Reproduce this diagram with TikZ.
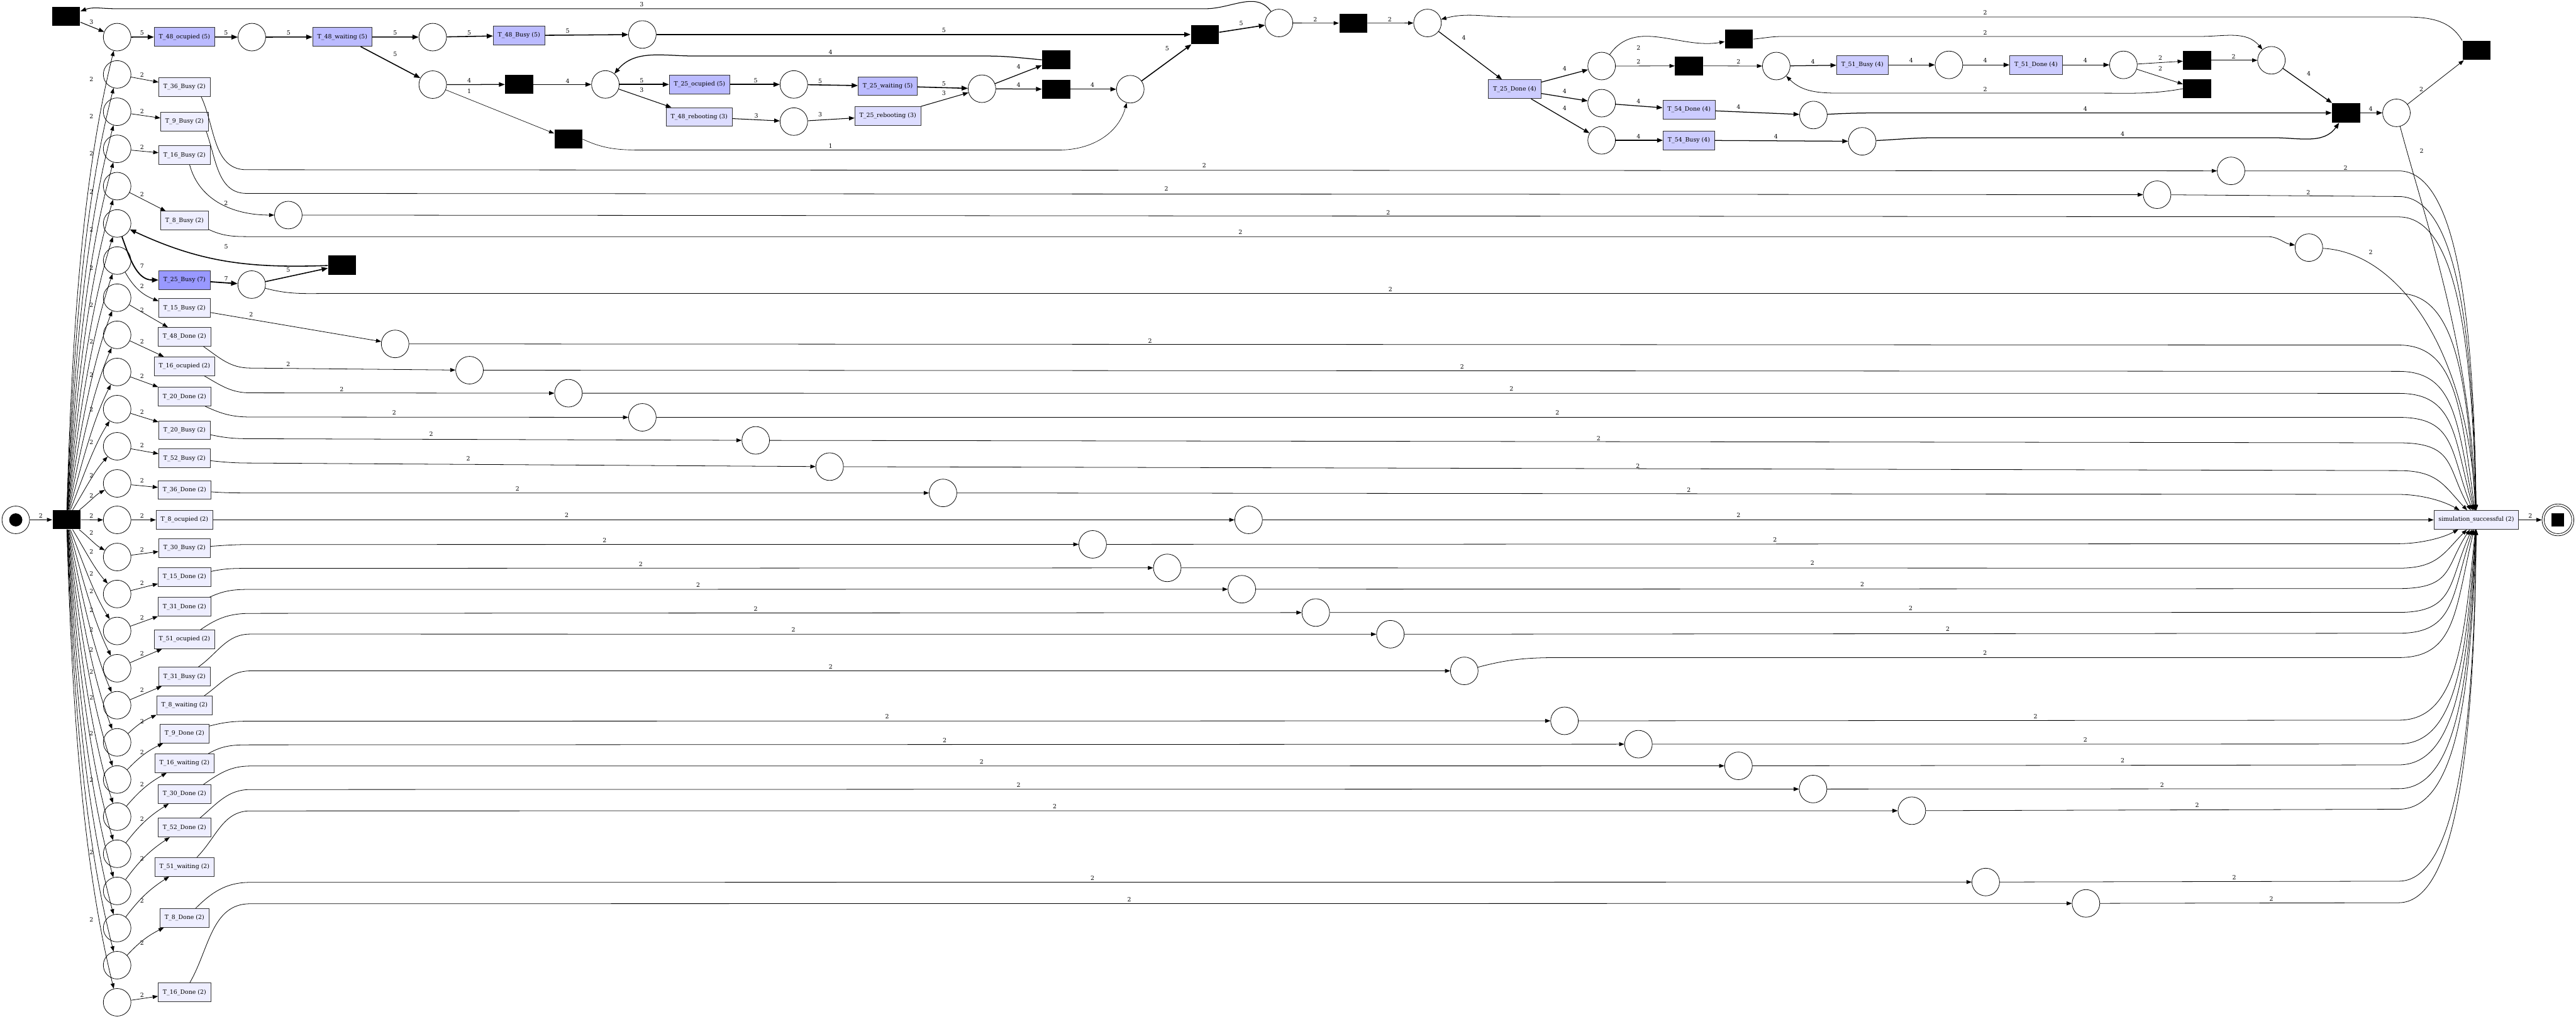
\documentclass[tikz,border=0pt]{standalone}
\usepackage{fontspec}
\setmainfont{DejaVu Serif}
\usetikzlibrary{arrows.meta}
\definecolor{cMid}{HTML}{BBBBFF}
\definecolor{cDark}{HTML}{9999FF}
\definecolor{cLight}{HTML}{DDDDFF}
\definecolor{cC}{HTML}{CCCCFF}
\definecolor{cE}{HTML}{EEEEFF}
\newcommand\lbl{\fontsize{3.6pt}{4.2pt}\selectfont}
\newcounter{wlc}
\newcommand\wl[3]{\stepcounter{wlc}\node[lab] (wl\arabic{wlc}) at (#1,-#2) {#3};}
\newcommand\TP[5]{\draw[a2] (#1.#2) to[out=#3,in=180] (152.4,-#4) -- (#5);}
\newcommand\ToSink[2]{%
  \pgfmathsetmacro\sdy{316.4-#2}%
  \pgfmathsetmacro\sady{abs(\sdy)}%
  \pgfmathsetmacro\sang{\sdy>0 ? 90+85*exp(-\sady/45) : 270-85*exp(-\sady/45)}%
  \pgfmathsetmacro\sod{min(0.8*\sady,35)}%
  \pgfmathsetmacro\sid{0.55*\sady+4}%
  \draw[a2] #1 -- (1460,-#2) to[out=0,in=\sang,out distance=\sod pt,in distance=\sid pt] (sink);}
\begin{document}
\begin{tikzpicture}[x=1pt,y=1pt,
 place/.style={circle,draw,line width=0.3pt,minimum size=16.8pt,inner sep=0pt},
 tr/.style={rectangle,draw=black!80,line width=0.35pt,minimum height=11.4pt,inner xsep=2.8pt,inner ysep=0pt,font=\lbl},
 bt/.style={rectangle,fill=black,minimum width=17pt,minimum height=11.6pt,inner sep=0pt},
 lab/.style={font=\lbl,inner sep=0pt},
 arr/.style={-{Triangle[length=2.6pt 2,width=1.9pt 1.6]}},
 a1/.style={arr,line width=0.25pt},
 a2/.style={arr,line width=0.3pt},
 a3/.style={arr,line width=0.4pt},
 a4/.style={arr,line width=0.48pt},
 a5/.style={arr,line width=0.6pt},
 a7/.style={arr,line width=0.7pt}]
\useasboundingbox (0,0) rectangle (1568,-620);

% ---------- start, source transition, column of places
\node[place] (s0) at (9.6,-316.4) {};
\node[circle,fill=black,minimum size=8pt,inner sep=0pt] (s0tok) at (s0) {};
\node[bt] (src) at (40.5,-316.3) {};
\node[bt] (bTL) at (40.3,-10) {};
\foreach \i/\y in {1/22.6,2/45.3,3/68,4/90.6,5/113.3,6/136,7/158.6,8/181.2,9/203.8,10/226.4,11/249,12/271.6,13/294.2,14/316.4,15/339,16/361.5,17/384,18/406.7,19/429.2,20/451.8,21/474.4,22/497,23/519.6,24/542.2,25/564.8,26/587.4,27/610}
  {\node[place] (c\i) at (71.3,-\y) {};}

% ---------- second column transitions
\node[tr,fill=cMid] (T48o) at (112.3,-22.5) {T\_48\_ocupied (5)};
\node[tr,fill=cDark] (T25B) at (112.3,-170.4) {T\_25\_Busy (7)};
\foreach \n/\y/\t in {T36B/53/T\_36\_Busy (2),T9B/74/T\_9\_Busy (2),T16B/94.4/T\_16\_Busy (2),T8B/134.3/T\_8\_Busy (2),
 T15B/187.5/T\_15\_Busy (2),T48D/205/T\_48\_Done (2),T16o/222.9/T\_16\_ocupied (2),T20D/241.4/T\_20\_Done (2),
 T20B/261.8/T\_20\_Busy (2),T52B/279/T\_52\_Busy (2),T36D/298.2/T\_36\_Done (2),T8o/316.4/T\_8\_ocupied (2),
 T30B/333.6/T\_30\_Busy (2),T15D/351.2/T\_15\_Done (2),T31D/369.3/T\_31\_Done (2),T51o/389.1/T\_51\_ocupied (2),
 T31B/411.8/T\_31\_Busy (2),T8w/429.3/T\_8\_waiting (2),T9D/446.5/T\_9\_Done (2),T16w/464.5/T\_16\_waiting (2),
 T30D/483.3/T\_30\_Done (2),T52D/503.7/T\_52\_Done (2),T51w/527.6/T\_51\_waiting (2),T8D/558.7/T\_8\_Done (2),
 T16D/603.9/T\_16\_Done (2)}
  {\node[tr,fill=cE] (\n) at (112.3,-\y) {\t};}

% ---------- top chain
\node[place] (pA) at (153.3,-22.6) {};
\node[tr,fill=cMid] (T48w) at (208.4,-22.5) {T\_48\_waiting (5)};
\node[place] (pB) at (263.4,-22.6) {};
\node[tr,fill=cMid] (T48B) at (315.9,-21.6) {T\_48\_Busy (5)};
\node[place] (pC) at (391,-21) {};
\node[place] (pD) at (263.4,-51.5) {};
\node[bt] (b2) at (316,-51.4) {};
\node[bt] (b3) at (346,-84.7) {};
\node[place] (pE) at (368.5,-51.4) {};
\node[tr,fill=cMid] (T25o) at (425.8,-51.4) {T\_25\_ocupied (5)};
\node[tr,fill=cLight] (T48r) at (425.6,-71.2) {T\_48\_rebooting (3)};
\node[place] (pF) at (483.2,-51.4) {};
\node[place] (pG) at (483.2,-74) {};
\node[tr,fill=cMid] (T25w) at (540.4,-52.4) {T\_25\_waiting (5)};
\node[tr,fill=cLight] (T25r) at (540.4,-70.6) {T\_25\_rebooting (3)};
\node[place] (pH) at (597.7,-54) {};
\node[bt] (b4) at (642.9,-36.4) {};
\node[bt] (b5) at (642.9,-54.3) {};
\node[place] (pI) at (688,-54.3) {};
\node[bt] (b1) at (733.4,-21) {};
\node[place] (pJ) at (778.5,-14) {};
\node[bt] (b6) at (823.7,-14.1) {};
\node[place] (pK) at (868.9,-14) {};
\node[tr,fill=cC] (T25D) at (922,-54.3) {T\_25\_Done (4)};
\node[place] (pL) at (974.9,-40.2) {};
\node[place] (pM) at (974.9,-62.8) {};
\node[place] (pN) at (974.9,-85.4) {};
\node[bt] (b7) at (1058.5,-23.8) {};
\node[bt] (b8) at (1028.1,-40.1) {};
\node[place] (pO) at (1081.2,-40.2) {};
\node[tr,fill=cC] (T51B) at (1133.6,-39.5) {T\_51\_Busy (4)};
\node[place] (pP) at (1186.3,-39.5) {};
\node[tr,fill=cC] (T51D) at (1239.3,-39.5) {T\_51\_Done (4)};
\node[place] (pQ) at (1292.5,-39.5) {};
\node[bt] (b9) at (1337.4,-36.7) {};
\node[bt] (b10) at (1337.4,-54) {};
\node[place] (pR) at (1382.6,-36.7) {};
\node[tr,fill=cC] (T54D) at (1028.1,-66.8) {T\_54\_Done (4)};
\node[place] (pS) at (1103.8,-70) {};
\node[tr,fill=cC] (T54B) at (1028,-85.4) {T\_54\_Busy (4)};
\node[place] (pT) at (1133.5,-86) {};
\node[bt] (b11) at (1428,-68.7) {};
\node[place] (pU) at (1458.7,-68.7) {};
\node[bt] (b12) at (1507.4,-30.7) {};
\node[bt] (bX) at (208.3,-161.3) {};

% ---------- middle places
\node[place] (p36B) at (1358,-104) {};
\node[place] (p9B) at (1313,-118.5) {};
\node[place] (p16B) at (175.5,-130.9) {};
\node[place] (p8B) at (1405.4,-150.7) {};
\node[place] (p25) at (153.2,-173.2) {};
\node[place] (p15B) at (240.5,-209.3) {};
\node[place] (p48D) at (285.8,-225.3) {};
\node[place] (p16o) at (346,-239.3) {};
\node[place] (p20D) at (391,-254) {};
\node[place] (p20B) at (460,-268) {};
\node[place] (p52B) at (505,-284) {};
\node[place] (p36D) at (574,-300) {};
\node[place] (p8o) at (760,-316.4) {};
\node[place] (p30B) at (665.1,-331.3) {};
\node[place] (p15D) at (710.5,-345.6) {};
\node[place] (p31D) at (755.9,-358.6) {};
\node[place] (p51o) at (800.9,-372.8) {};
\node[place] (p31B) at (846.3,-386) {};
\node[place] (p8w) at (891.3,-408.3) {};
\node[place] (p9D) at (952.3,-438.7) {};
\node[place] (p16w) at (997.3,-452.9) {};
\node[place] (p30D) at (1058.2,-466.1) {};
\node[place] (p52D) at (1103.6,-480.2) {};
\node[place] (p51w) at (1163.7,-493.4) {};
\node[place] (p8D) at (1208.7,-536.8) {};
\node[place] (p16D) at (1269.7,-549.8) {};

% ---------- sink and final place
\node[tr,fill=cE] (sink) at (1507.3,-316.4) {simulation\_successful (2)};
\node[circle,draw,line width=0.3pt,minimum size=19.4pt,inner sep=0pt] (fin) at (1557,-316.4) {};
\node[circle,draw,line width=0.3pt,minimum size=16.8pt,inner sep=0pt] (finIn) at (fin) {};
\node[rectangle,fill=black,minimum size=7.7pt,inner sep=0pt] (finTok) at (fin) {};

% ---------- start edge & fan
\draw[a2] (s0) -- (src); \wl{24.8}{314}{2}
\foreach \i/\y/\ly in {1/22.6/48.3,2/45.3/71,3/68/93.5,4/90.6/116.7,5/113.3/139.8,6/136/162.9,7/158.6/185.5,8/181.2/208,9/203.8/228.3,10/226.4/249.4,11/249/269.3,12/271.6/289.3,13/294.2/301.7,14/316.4/314,15/339/324.3,16/361.5/335.6,17/384/349.3,18/406.7/359.8,19/429.2/371.5,20/451.8/383.1,21/474.4/395.3,22/497/408.9,23/519.6/424.5,24/542.2/446.4,25/564.8/474.6,26/587.4/518.8,27/610/559.7}
{
  \pgfmathsetmacro\fs{atan((316.4-\y)/30.5)}
  \pgfmathsetmacro\fo{1.05*\fs}
  \pgfmathsetmacro\fin{180+\fs-8*sign(\fs)}
  \draw[a2] (src) to[out=\fo,in=\fin,looseness=0.8] (c\i);
  \wl{55.6}{\ly}{2}
}

% ---------- column places to transitions
\draw[a5] (c1) -- (T48o); \wl{86.5}{20}{5}
\draw[a7] (c6) to[out=-70,in=180] (T25B); \wl{86.5}{162.1}{7}
\foreach \a/\b/\ly/\bs in {2/T36B/45.5/0,3/T9B/67.8/0,4/T16B/89.5/0,5/T8B/118.3/0,7/T15B/174/-20,8/T48D/188.6/0,9/T16o/208/0,10/T20D/229/0,11/T20B/250.8/0,12/T52B/271.2/0,13/T36D/292.6/0,14/T8o/314/0,15/T30B/334.6/0,16/T15D/355/0,17/T31D/375.9/0,18/T51o/397.6/0,19/T31B/420.1/0,20/T8w/439.2/10,21/T9D/457.7/10,22/T16w/477.4/10,23/T30D/498.3/10,24/T52D/522.7/10,25/T51w/548/10,26/T8D/573.8/10,27/T16D/605.5/0}
{
  \draw[a2] (c\a) to[bend left=\bs] (\b);
  \wl{86.5}{\ly}{2}
}

% ---------- top chain edges
\draw[a3] (bTL) -- (c1); \wl{55.6}{13.5}{3}
\draw[a5] (T48o) -- (pA); \wl{137.6}{20}{5}
\draw[a5] (pA) -- (T48w); \wl{175.7}{20}{5}
\draw[a5] (T48w) -- (pB); \wl{240.5}{20}{5}
\draw[a5] (pB) -- (T48B); \wl{285.6}{20}{5}
\draw[a5] (T48B) -- (pC); \wl{345.5}{18.8}{5}
\draw[a5] (pC) -- (b1); \wl{574.5}{18.6}{5}
\draw[a5] (T48w) -- (pD); \wl{240.5}{33}{5}
\draw[a4] (pD) -- (b2); \wl{285.6}{49}{4}
\draw[a1] (pD) -- (b3); \wl{285.6}{55.4}{1}
\draw[a4] (b2) -- (pE); \wl{345.5}{49.2}{4}
\draw[a5] (pE) -- (T25o); \wl{390.6}{49.2}{5}
\draw[a3] (pE) -- (T48r); \wl{390.6}{54.6}{3}
\draw[a5] (T25o) -- (pF); \wl{460}{49.2}{5}
\draw[a5] (pF) -- (T25w); \wl{499.2}{49.4}{5}
\draw[a3] (T48r) -- (pG); \wl{460.4}{70.4}{3}
\draw[a3] (pG) -- (T25r); \wl{499.2}{69.8}{3}
\draw[a5] (T25w) -- (pH); \wl{574.5}{51}{5}
\draw[a3] (T25r) -- (pH); \wl{574.5}{56.8}{3}
\draw[a4] (pH) -- (b4); \wl{620}{40.4}{4}
\draw[a4] (pH) -- (b5); \wl{620}{51.8}{4}
\draw[a4] (b4.west) to[out=175,in=0] (600,-34.1) -- (423,-34.1) to[out=180,in=50] (pE); \wl{505.5}{31.9}{4}
\draw[a4] (b5) -- (pI); \wl{665}{51.8}{4}
\draw[a1] (b3.east) to[out=-25,in=180] (390.6,-91.3) -- (644.7,-91.3) to[out=0,in=255] (pI); \wl{505.5}{88.9}{1}
\draw[a5] (pI) -- (b1); \wl{710.4}{29.4}{5}
\draw[a5] (b1) -- (pJ); \wl{755.5}{14.1}{5}
\draw[a3] (pJ) to[out=125,in=0] (734,-5.3) -- (70.3,-5.3) to[out=180,in=20] (bTL); \wl{390.6}{2.9}{3}
\draw[a2] (pJ) -- (b6); \wl{800.6}{11.8}{2}
\draw[a2] (b6) -- (pK); \wl{846}{11.8}{2}
\draw[a4] (pK) -- (T25D); \wl{891}{22.9}{4}
\draw[a4] (T25D) -- (pL); \wl{952.4}{41.6}{4}
\draw[a4] (T25D) -- (pM); \wl{952.4}{55.7}{4}
\draw[a4] (T25D) -- (pN); \wl{952.4}{65.8}{4}
\draw[a2] (pL) to[out=55,in=190] (b7); \wl{997.4}{29.2}{2}
\draw[a2] (pL) -- (b8); \wl{997.4}{37.7}{2}
\draw[a2] (b8) -- (pO); \wl{1058.2}{37.7}{2}
\draw[a4] (pO) -- (T51B); \wl{1103.5}{37.7}{4}
\draw[a4] (T51B) -- (pP); \wl{1163.3}{36.9}{4}
\draw[a4] (pP) -- (T51D); \wl{1208.4}{36.9}{4}
\draw[a4] (T51D) -- (pQ); \wl{1269.3}{36.9}{4}
\draw[a2] (pQ) -- (b9); \wl{1315}{35.1}{2}
\draw[a2] (pQ) -- (b10); \wl{1315}{41.8}{2}
\draw[a2] (b9) -- (pR); \wl{1359.6}{34.3}{2}
\draw[a2] (b10.west) to[out=190,in=0] (1280,-56.7) -- (1124.2,-56.7) to[out=180,in=-45] (pO); \wl{1208.4}{54.4}{2}
\draw[a2] (b7.east) to[out=5,in=180] (1085,-22.2) -- (1339,-22.2) to[out=0,in=130] (pR); \wl{1208.4}{19.9}{2}
\draw[a4] (pR) -- (b11); \wl{1405.3}{44.7}{4}
\draw[a4] (pM) -- (T54D); \wl{997.4}{61.8}{4}
\draw[a4] (T54D) -- (pS); \wl{1058.2}{65.1}{4}
\draw[a4] (pS) to[out=3,in=180] (1150.7,-68.7) -- (b11); \wl{1269.3}{66.3}{4}
\draw[a4] (pN) -- (T54B); \wl{997.4}{83}{4}
\draw[a4] (T54B) -- (pT); \wl{1081}{83.2}{4}
\draw[a4] (pT) to[out=3,in=180] (1180,-83.8) -- (1383.2,-83.8) to[out=0,in=235] (b11); \wl{1292}{81.4}{4}
\draw[a4] (b11) -- (pU); \wl{1443}{66.3}{4}
\draw[a2] (pU) -- (b12); \wl{1473.9}{54.2}{2}
\draw[a2] (b12.north west) to[out=120,in=0] (1459.7,-10.3) -- (919.6,-10.3) to[out=180,in=15] (pK); \wl{1208.4}{7.8}{2}
\draw[a2] (pU) to[out=-75,in=92,out distance=60pt,in distance=100pt] (sink); \wl{1474}{92}{2}

% ---------- T_25_Busy loop
\draw[a7] (T25B) -- (p25); \wl{137.7}{169.8}{7}
\draw[a5] (p25) -- (bX); \wl{175.5}{164.2}{5}
\draw[a5] (bX) to[out=182,in=-25] (c6); \wl{137.7}{150.2}{5}

% ---------- second column to middle places
\draw[a2] (T36B.330) to[out=-65,in=180] (150,-103.3) -- (p36B); \wl{733}{100.6}{2}
\draw[a2] (T9B.336) to[out=-70,in=180] (150,-117.7) -- (p9B); \wl{710}{115}{2}
\draw[a2] (T16B.298) to[out=-75,in=180] (p16B); \wl{137.6}{123.8}{2}
\draw[a2] (T8B.340) to[out=-25,in=180] (152,-144) -- (1380,-144) to[out=0,in=170] (p8B); \wl{755}{141.3}{2}
\draw[a2] (T15B) -- (p15B); \wl{152.9}{191.3}{2}
\TP{T48D}{333}{-35}{224}{p48D} \wl{175.5}{221.8}{2}
\TP{T16o}{334}{-30}{239.1}{p16o} \wl{208}{236.8}{2}
\TP{T20D}{335}{-25}{253.8}{p20D} \wl{240}{251.1}{2}
\TP{T20B}{350}{-12}{267}{p20B} \wl{262.5}{264.3}{2}
\TP{T52B}{355}{-6}{281.8}{p52B} \wl{285}{279.1}{2}
\TP{T36D}{356}{-4}{300}{p36D} \wl{315}{297.3}{2}
\draw[a2] (T8o) -- (p8o); \wl{345}{313.7}{2}
\TP{T30B}{4}{4}{331.4}{p30B} \wl{368}{328.7}{2}
\TP{T15D}{12}{12}{345.9}{p15D} \wl{390}{343.2}{2}
\TP{T31D}{21}{25}{358.7}{p31D} \wl{425}{356}{2}
\TP{T51o}{31}{35}{373.3}{p51o} \wl{460}{370.6}{2}
\TP{T31B}{35}{35}{385.9}{p31B} \wl{483}{383.2}{2}
\TP{T8w}{26}{35}{408.3}{p8w} \wl{505.6}{405.6}{2}
\TP{T9D}{17}{15}{438.9}{p9D} \wl{540}{436.2}{2}
\TP{T16w}{22}{30}{453.3}{p16w} \wl{575}{450.6}{2}
\TP{T30D}{27}{35}{466.2}{p30D} \wl{597.5}{463.5}{2}
\TP{T52D}{32}{40}{480.5}{p52D} \wl{620}{477.8}{2}
\TP{T51w}{38}{45}{493.5}{p51w} \wl{642}{490.8}{2}
\TP{T8D}{41}{45}{537}{p8D} \wl{665}{534.3}{2}
\TP{T16D}{61}{60}{550}{p16D} \wl{687.4}{547.3}{2}

% ---------- middle places to sink
\ToSink{(p36B)}{104} \wl{1427.7}{102.4}{2}
\ToSink{(p9B)}{119.6} \wl{1405}{117.3}{2}
\ToSink{(p16B)}{132} \wl{845}{129.5}{2}
\draw[a2] (p8B) to[out=-3,in=93,out distance=45pt,in distance=100pt] (sink); \wl{1443}{153.5}{2}
\ToSink{(p25) to[out=-15,in=180] (200,-178.6)}{178.6} \wl{846.3}{176}{2}
\ToSink{(p15B)}{210} \wl{700}{207.3}{2}
\ToSink{(p48D)}{226} \wl{890}{223.3}{2}
\ToSink{(p16o)}{239.4} \wl{920}{236.7}{2}
\ToSink{(p20D)}{254} \wl{948}{251.3}{2}
\ToSink{(p20B)}{269.5} \wl{973}{266.8}{2}
\ToSink{(p52B)}{286.4} \wl{997}{283.7}{2}
\ToSink{(p36D)}{300.9} \wl{1028}{298.2}{2}
\draw[a2] (p8o) -- (sink); \wl{1058.2}{313.5}{2}
\ToSink{(p30B)}{330.9} \wl{1080.4}{328.4}{2}
\ToSink{(p15D)}{345.8} \wl{1103.2}{342.7}{2}
\ToSink{(p31D)}{358.2} \wl{1133.5}{355.6}{2}
\ToSink{(p51o)}{372.7} \wl{1163}{370.1}{2}
\ToSink{(p31B)}{385.4} \wl{1185.6}{383}{2}
\ToSink{(p8w) to[out=15,in=180] (951,-400.2)}{400.2} \wl{1208.3}{397.4}{2}
\ToSink{(p9D)}{438.3} \wl{1239}{436}{2}
\ToSink{(p16w)}{452.8} \wl{1269.3}{450.2}{2}
\ToSink{(p30D)}{465.5} \wl{1292}{463}{2}
\ToSink{(p52D)}{480} \wl{1316}{477.8}{2}
\ToSink{(p51w)}{492.5} \wl{1337.4}{490}{2}
\ToSink{(p8D)}{536.3} \wl{1360}{534}{2}
\ToSink{(p16D)}{549.4} \wl{1382.6}{547}{2}

% ---------- sink to final
\draw[a2] (sink) -- (fin); \wl{1540.2}{313.9}{2}
\end{tikzpicture}
\end{document}
